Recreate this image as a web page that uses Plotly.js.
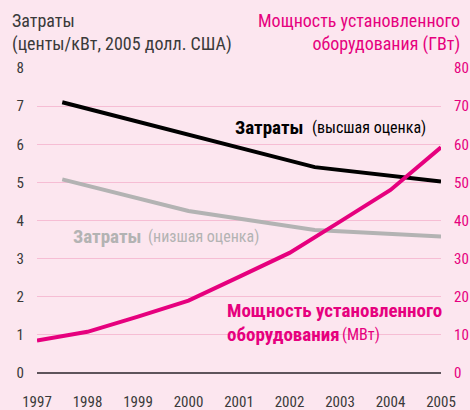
<!DOCTYPE html>
<html>
<head>
<meta charset="utf-8">
<script src="https://cdn.plot.ly/plotly-3.0.1.min.js"></script>
<style>
  html, body { margin: 0; padding: 0; background: #fce6ef; }
  #chart { width: 470px; height: 410px; }
</style>
</head>
<body>
<div id="chart"></div>
<script>
// ===== Data =====
const years = [1997, 1998, 1999, 2000, 2001, 2002, 2003, 2004, 2005];

// Cost, upper estimate (cents/kWh)
const costHighYears = [1997.5, 2000, 2002.5, 2005];
const costHigh = [7.1, 6.25, 5.4, 5.02];

// Cost, lower estimate (cents/kWh)
const costLowYears = [1997.5, 2000, 2002.5, 2005];
const costLow = [5.08, 4.25, 3.75, 3.58];

// Installed capacity (GW)
const capYears = [1997, 1998, 1999, 2000, 2001, 2002, 2003, 2004, 2005];
const capacity = [8.5, 10.8, 14.8, 19.0, 25.2, 31.5, 39.7, 48.0, 59.2];

const leftTicks = [0, 1, 2, 3, 4, 5, 6, 7, 8];
const rightTicks = [0, 10, 20, 30, 40, 50, 60, 70, 80];

const PINK = '#e6007e';
const GREY = '#b3b3b3';
const TEXT = '#3a3a3a';
const FONT = '"Roboto Condensed", "DejaVu Sans Condensed", "Liberation Sans", sans-serif';

// small helper for a left-anchored label in data coordinates
function label(x, y, text, size, color, bold) {
    return {
        xref: 'x', yref: 'y', x: x, y: y,
        xanchor: 'left', yanchor: 'middle', showarrow: false,
        text: bold ? '<b>' + text + '</b>' : text,
        font: { family: FONT, size: size, color: color }
    };
}

function makeChart() {
    const traces = [
        {
            x: costLowYears, y: costLow, type: 'scatter', mode: 'lines',
            line: { color: GREY, width: 4 }, hoverinfo: 'skip'
        },
        {
            x: costHighYears, y: costHigh, type: 'scatter', mode: 'lines',
            line: { color: '#000000', width: 4 }, hoverinfo: 'skip'
        },
        {
            x: capYears, y: capacity, type: 'scatter', mode: 'lines', yaxis: 'y2',
            line: { color: PINK, width: 4 }, hoverinfo: 'skip'
        }
    ];

    const layout = {
        width: 470,
        height: 410,
        paper_bgcolor: '#fce6ef',
        plot_bgcolor: '#fce6ef',
        showlegend: false,
        margin: { l: 37, r: 29, t: 68, b: 37 },
        font: { family: FONT, size: 15, color: TEXT },
        xaxis: {
            range: [1997, 2005],
            tickvals: years,
            ticktext: years.map(String),
            showgrid: false,
            zeroline: false,
            showline: false,
            ticks: '',
            ticklabelstandoff: 18,
            tickfont: { family: FONT, size: 15, color: TEXT }
        },
        yaxis: {
            range: [0, 8],
            tickvals: leftTicks,
            showgrid: true,
            gridcolor: '#f6bdd4',
            gridwidth: 1,
            zeroline: true,
            zerolinecolor: '#5e545b',
            zerolinewidth: 2,
            ticks: '',
            ticklabelstandoff: 12,
            tickfont: { family: FONT, size: 15, color: TEXT }
        },
        yaxis2: {
            range: [0, 80],
            tickvals: rightTicks,
            overlaying: 'y',
            side: 'right',
            showgrid: false,
            zeroline: false,
            ticks: '',
            ticklabelstandoff: 12,
            tickfont: { family: FONT, size: 15, color: PINK }
        },
        annotations: [
            {
                xref: 'paper', yref: 'paper', x: -0.067, y: 1.118,
                xanchor: 'left', yanchor: 'middle', align: 'left', showarrow: false,
                text: 'Затраты<br>(центы/кВт, 2005 долл. США)',
                font: { family: FONT, size: 18, color: TEXT }
            },
            {
                xref: 'paper', yref: 'paper', x: 1.052, y: 1.118,
                xanchor: 'right', yanchor: 'middle', align: 'right', showarrow: false,
                text: 'Мощность установленного<br>оборудования (ГВт)',
                font: { family: FONT, size: 18, color: PINK }
            },
            // upper-estimate label
            label(2000.88, 6.45, 'Затраты', 19, '#000000', true),
            label(2002.41, 6.45, '(высшая оценка)', 16, '#000000', false),
            // lower-estimate label
            label(1997.67, 3.57, 'Затраты', 19, GREY, true),
            label(1999.16, 3.57, '(низшая оценка)', 16, GREY, false),
            // capacity label
            label(2000.72, 1.63, 'Мощность установленного', 19, PINK, true),
            label(2000.72, 1.0, 'оборудования', 19, PINK, true),
            label(2003.0, 1.0, '(МВт)', 16, PINK, false)
        ]
    };

    Plotly.newPlot('chart', traces, layout, { displayModeBar: false, staticPlot: true });
}

makeChart();
</script>
</body>
</html>
